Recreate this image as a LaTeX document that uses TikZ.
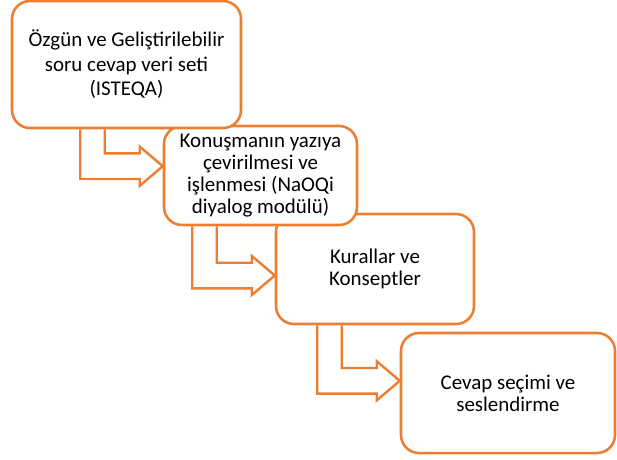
\documentclass[tikz,border=0pt]{standalone}
\usepackage{fontspec}
\setmainfont{Carlito}
\usetikzlibrary{calc}
\definecolor{stepOrange}{RGB}{237,125,49}
\tikzset{
  stepbox/.style={draw=stepOrange, line width=1.8pt, rounded corners=0.45cm, fill=white,
    align=center, inner sep=0pt, font=\fontsize{14.9}{15.8}\selectfont},
  bentarrow/.style={draw=stepOrange, line width=1.7pt, line join=miter}
}
\begin{document}
\begin{tikzpicture}
\useasboundingbox (0,0) rectangle (15.425,-11.475);
% last step first, so each box lies over the next one
\node[stepbox, minimum width=5.35cm, minimum height=3cm] (b4) at (12.7,-9.825) {Cevap seçimi ve\\seslendirme};
\node[stepbox, minimum width=4.95cm, minimum height=2.75cm] (b3) at (9.375,-6.725) {Kurallar ve\\Konseptler};
\node[stepbox, minimum width=4.825cm, minimum height=2.475cm] (b2) at (6.5125,-4.3875) {Konuşmanın yazıya\\çevirilmesi ve\\işlenmesi (NaOQi\\diyalog modülü)};
\node[stepbox, minimum width=5.725cm, minimum height=3.175cm, font=\fontsize{14.9}{17.4}\selectfont] (b1) at (3.1625,-1.6125) {Özgün ve Geliştirilebilir\\soru cevap veri seti\\(ISTEQA)};
% bent arrows: source / target / tip shift
\foreach \from/\to/\dy in {b1/b2/0.2325, b2/b3/-0.1625, b3/b4/0.305}{
  \coordinate (tip) at ($(\to.west)+(0,\dy)$);
  \coordinate (in) at ($(tip)+(-1.45,0)$);
  \coordinate (out) at ($(tip)+(-2.0625,0)$);
  \draw[bentarrow] (in |- \from.south)--($(in)+(0,0.32)$)--($(tip)+(-0.575,0.32)$)--($(tip)+(-0.575,0.49)$)
    --(tip)--($(tip)+(-0.575,-0.49)$)--($(tip)+(-0.575,-0.32)$)--($(out)+(0,-0.32)$)--(out |- \from.south);
}
\end{tikzpicture}
\end{document}
